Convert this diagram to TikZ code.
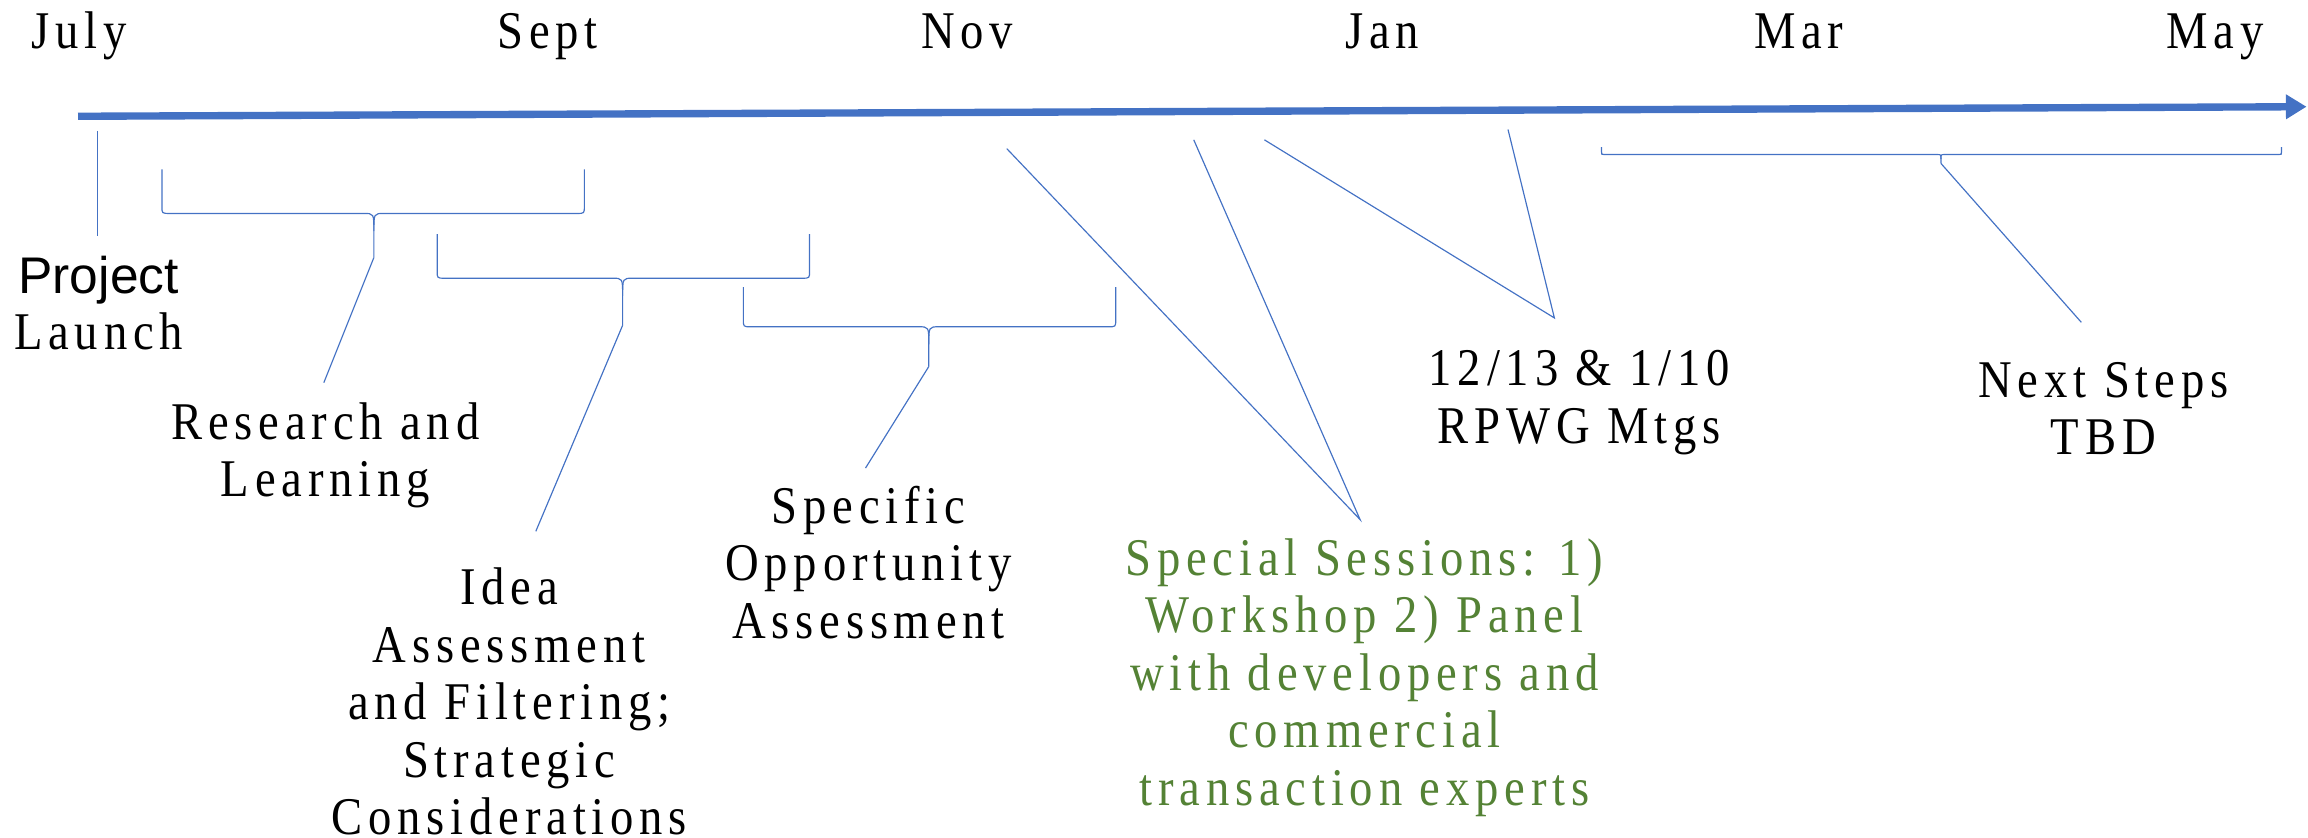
\documentclass[tikz,border=0pt]{standalone}
\usepackage{fontspec}
\usetikzlibrary{arrows.meta}
\newfontfamily\tlserif[FakeStretch=0.88,LetterSpace=11]{Liberation Serif}
\newfontfamily\tlsans{Liberation Sans}
\definecolor{tlblue}{HTML}{4472C4}
\definecolor{tlgreen}{HTML}{548235}
\tikzset{
  tltext/.style={anchor=base, inner sep=0pt, align=center,
    font=\tlserif\fontsize{36}{39}\selectfont},
  month/.style={tltext},
  phase/.style={tltext},
  session/.style={tltext, text=tlgreen},
  leader/.style={draw=tlblue, line width=0.8pt},
  bracket/.style={draw=tlblue, line width=0.8pt},
  axis/.style={draw=tlblue, line width=5pt, -{Triangle[length=14pt,width=16pt]}}
}
% bracket under a span: x1, x2, top, bar level, middle x, tip level, tip name
\newcommand\tlbrace[7]{%
  \draw[bracket] (#1,#3) -- (#1,#4-5) .. controls (#1,#4) .. (#1+5,#4)
    -- (#5-7,#4) .. controls (#5,#4) .. (#5,#4+12) -- (#5,#6) coordinate (#7);
  \draw[bracket] (#2,#3) -- (#2,#4-5) .. controls (#2,#4) .. (#2-5,#4)
    -- (#5+7,#4) .. controls (#5,#4) .. (#5,#4+12);
}
\begin{document}
\begin{tikzpicture}[x=1pt,y=-1pt]
\useasboundingbox (0,0) rectangle (1568,569);

% time axis
\coordinate (ax-start) at (53,79);
\coordinate (ax-end) at (1567,72.5);
\draw[axis] (ax-start) -- (ax-end);

% months (nodes sit on the baseline of their last line)
\node[month] (m-jul) at (54,33) {July};
\node[month] (m-sep) at (372,33) {Sept};
\node[month] (m-nov) at (657,33) {Nov};
\node[month] (m-jan) at (939,33) {Jan};
\node[month] (m-mar) at (1222,33) {Mar};
\node[month] (m-may) at (1505,33) {May};

% project launch
\node[phase] (launch) at (67,237.5) {{\tlsans\fontsize{35}{38}\selectfont Project}\\[-1pt]Launch};
\coordinate (pl-top) at (66,89);
\coordinate (pl-end) at (66,160);
\draw[leader] (pl-top) -- (pl-end);

% research and learning
\tlbrace{110}{397}{115}{145}{254}{175}{rl-tip}
\coordinate (rl-end) at (220,260);
\draw[leader] (rl-tip) -- (rl-end);
\node[phase] (research) at (221,337.5) {Research and\\Learning};

% idea assessment
\tlbrace{297}{550}{159}{189}{423}{221}{ia-tip}
\coordinate (ia-end) at (364,361);
\draw[leader] (ia-tip) -- (ia-end);
\node[phase] (idea) at (346,567) {Idea\\Assessment\\and Filtering;\\Strategic\\Considerations};

% specific opportunity assessment
\tlbrace{505}{758}{195}{222}{631}{249}{so-tip}
\coordinate (so-end) at (588,318);
\draw[leader] (so-tip) -- (so-end);
\node[phase] (specific) at (590,433.6) {Specific\\Opportunity\\Assessment};

% special sessions
\coordinate (ss-a) at (684,101);
\coordinate (ss-b) at (811,95);
\coordinate (ss-end) at (924,353);
\draw[leader] (ss-a) -- (ss-end) -- (ss-b);
\node[session] (special) at (927,547) {Special Sessions: 1)\\Workshop 2) Panel\\with developers and\\commercial\\transaction experts};

% working group meetings
\coordinate (rp-a) at (859,95);
\coordinate (rp-b) at (1024.5,88);
\coordinate (rp-end) at (1056,216);
\draw[leader] (rp-a) -- (rp-end) -- (rp-b);
\node[phase] (rpwg) at (1073,301) {12/13 \& 1/10\\RPWG Mtgs};

% next steps
\draw[bracket] (1088,100) -- (1088,103) .. controls (1088,105) .. (1090,105)
  -- (1316,105) .. controls (1318.6,105) .. (1318.6,108) -- (1318.6,111) coordinate (ns-tip);
\draw[bracket] (1550,100) -- (1550,103) .. controls (1550,105) .. (1548,105)
  -- (1321,105) .. controls (1318.6,105) .. (1318.6,108);
\coordinate (ns-end) at (1414,219);
\draw[leader] (ns-tip) -- (ns-end);
\node[phase] (next) at (1429,309) {Next Steps\\TBD};
\end{tikzpicture}
\end{document}
